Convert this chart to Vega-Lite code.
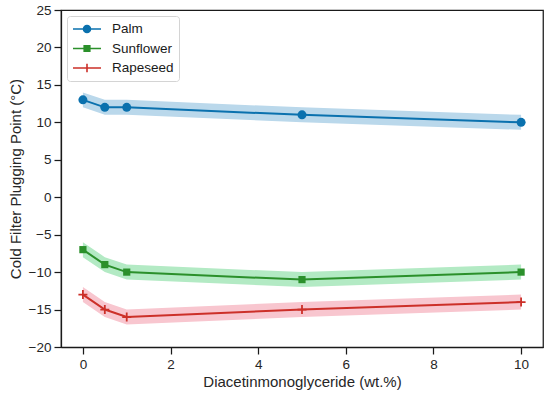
{
  "$schema": "https://vega.github.io/schema/vega-lite/v6.json",
  "width": 482,
  "height": 337,
  "autosize": "none",
  "padding": {"left": 61, "top": 10, "right": 7, "bottom": 48},
  "background": "white",
  "config": {
    "font": "Liberation Sans",
    "view": {"stroke": "#1a1a1a", "strokeWidth": 1.25},
    "axis": {
      "grid": false,
      "domainColor": "#1a1a1a",
      "domainWidth": 1.25,
      "tickColor": "#1a1a1a",
      "tickWidth": 1.25,
      "tickSize": 7,
      "labelFontSize": 13.5,
      "labelColor": "#262626",
      "labelPadding": 3,
      "labelOverlap": false,
      "titleFontSize": 15,
      "titleFontWeight": "normal",
      "titleColor": "#262626"
    },
    "legend": {
      "title": null,
      "orient": "top-left",
      "offset": 6,
      "padding": 5,
      "cornerRadius": 3,
      "strokeColor": "#d4d4d4",
      "fillColor": "white",
      "labelFontSize": 13.5,
      "labelColor": "#1a1a1a",
      "symbolSize": 196,
      "symbolOffset": 7,
      "labelOffset": 17,
      "rowPadding": 4.5,
      "symbolStrokeWidth": 1.6
    }
  },
  "data": {
    "values": [
      {"series": "Palm", "x": 0, "y": 13, "lo": 12, "hi": 14},
      {"series": "Palm", "x": 0.5, "y": 12, "lo": 11, "hi": 13},
      {"series": "Palm", "x": 1, "y": 12, "lo": 11, "hi": 13},
      {"series": "Palm", "x": 5, "y": 11, "lo": 10, "hi": 12},
      {"series": "Palm", "x": 10, "y": 10, "lo": 9, "hi": 11},
      {"series": "Sunflower", "x": 0, "y": -7, "lo": -8, "hi": -6},
      {"series": "Sunflower", "x": 0.5, "y": -9, "lo": -10, "hi": -8},
      {"series": "Sunflower", "x": 1, "y": -10, "lo": -11, "hi": -9},
      {"series": "Sunflower", "x": 5, "y": -11, "lo": -12, "hi": -10},
      {"series": "Sunflower", "x": 10, "y": -10, "lo": -11, "hi": -9},
      {"series": "Rapeseed", "x": 0, "y": -13, "lo": -14, "hi": -12},
      {"series": "Rapeseed", "x": 0.5, "y": -15, "lo": -16, "hi": -14},
      {"series": "Rapeseed", "x": 1, "y": -16, "lo": -17, "hi": -15},
      {"series": "Rapeseed", "x": 5, "y": -15, "lo": -16, "hi": -14},
      {"series": "Rapeseed", "x": 10, "y": -14, "lo": -15, "hi": -13}
    ]
  },
  "encoding": {
    "x": {
      "field": "x", "type": "quantitative",
      "title": "Diacetinmonoglyceride (wt.%)",
      "scale": {"domain": [-0.5, 10.5], "nice": false, "zero": false},
      "axis": {"values": [0, 2, 4, 6, 8, 10], "titlePadding": 4}
    },
    "y": {
      "field": "y", "type": "quantitative",
      "title": "Cold Filter Plugging Point (°C)",
      "scale": {"domain": [-20, 25], "nice": false, "zero": false},
      "axis": {"values": [-20, -15, -10, -5, 0, 5, 10, 15, 20, 25], "tickCount": 10, "titlePadding": 5}
    }
  },
  "layer": [
    {
      "transform": [{"filter": "datum.series === 'Palm'"}],
      "mark": {"type": "area", "fill": "#bad8eb"},
      "encoding": {
        "y": {
          "field": "lo", "type": "quantitative",
          "title": "Cold Filter Plugging Point (°C)",
          "scale": {"domain": [-20, 25], "nice": false, "zero": false},
          "axis": {"values": [-20, -15, -10, -5, 0, 5, 10, 15, 20, 25], "tickCount": 10, "titlePadding": 5}
        },
        "y2": {"field": "hi"}
      }
    },
    {
      "transform": [{"filter": "datum.series === 'Sunflower'"}],
      "mark": {"type": "area", "fill": "#b3eac4"},
      "encoding": {
        "y": {
          "field": "lo", "type": "quantitative",
          "title": "Cold Filter Plugging Point (°C)",
          "axis": {"values": [-20, -15, -10, -5, 0, 5, 10, 15, 20, 25], "tickCount": 10, "titlePadding": 5}
        },
        "y2": {"field": "hi"}
      }
    },
    {
      "transform": [{"filter": "datum.series === 'Rapeseed'"}],
      "mark": {"type": "area", "fill": "#f8c6cf"},
      "encoding": {
        "y": {
          "field": "lo", "type": "quantitative",
          "title": "Cold Filter Plugging Point (°C)",
          "axis": {"values": [-20, -15, -10, -5, 0, 5, 10, 15, 20, 25], "tickCount": 10, "titlePadding": 5}
        },
        "y2": {"field": "hi"}
      }
    },
    {
      "mark": {"type": "line", "strokeWidth": 2},
      "encoding": {
        "color": {
          "field": "series", "type": "nominal",
          "scale": {"domain": ["Palm", "Sunflower", "Rapeseed"], "range": ["#0a71ae", "#2b902b", "#cc3029"]},
          "legend": {
            "encode": {
              "symbols": {
                "update": {
                  "shape": {"signal": "datum.value === 'Palm' ? 'M-2,0L2,0M0.5,0A0.5,0.5,0,1,1,-0.5,0A0.5,0.5,0,1,1,0.5,0Z' : datum.value === 'Sunflower' ? 'M-2,0L2,0M-0.4,-0.4L0.4,-0.4L0.4,0.4L-0.4,0.4Z' : 'M-2,0L2,0M0,-0.6L0,0.6'"},
                  "fill": {"scale": "color", "field": "value"},
                  "stroke": {"scale": "color", "field": "value"},
                  "opacity": {"value": 1}
                }
              }
            }
          }
        }
      }
    },
    {
      "transform": [{"filter": "datum.series === 'Palm'"}],
      "mark": {"type": "point", "filled": true, "opacity": 1, "size": 81, "shape": "circle"},
      "encoding": {
        "color": {"field": "series", "type": "nominal"}
      }
    },
    {
      "transform": [{"filter": "datum.series === 'Sunflower'"}],
      "mark": {"type": "point", "filled": true, "opacity": 1, "size": 81, "shape": "M-0.8,-0.8L0.8,-0.8L0.8,0.8L-0.8,0.8Z"},
      "encoding": {
        "color": {"field": "series", "type": "nominal"}
      }
    },
    {
      "transform": [{"filter": "datum.series === 'Rapeseed'"}],
      "mark": {"type": "point", "filled": true, "opacity": 1, "size": 81, "shape": "M-1,-0.2L-0.2,-0.2L-0.2,-1L0.2,-1L0.2,-0.2L1,-0.2L1,0.2L0.2,0.2L0.2,1L-0.2,1L-0.2,0.2L-1,0.2Z"},
      "encoding": {
        "color": {"field": "series", "type": "nominal"}
      }
    }
  ]
}
